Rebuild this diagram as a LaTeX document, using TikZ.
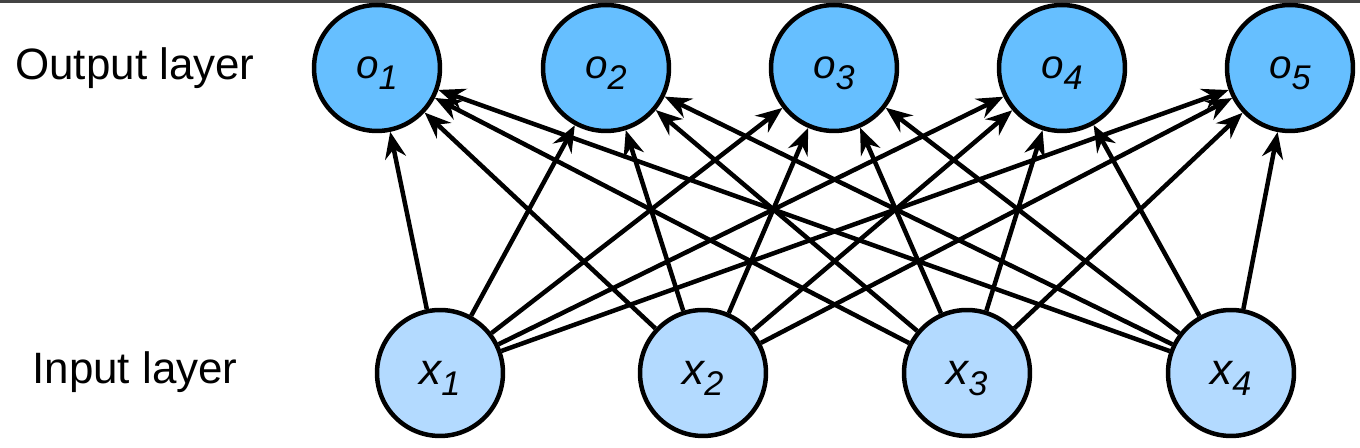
\documentclass[tikz,border=0pt]{standalone}
\usepackage{fontspec}
\setmainfont{Liberation Sans}
\definecolor{outblue}{RGB}{102, 191, 255}
\definecolor{inblue}{RGB}{179, 218, 255}
\definecolor{framegray}{RGB}{68, 68, 68}
\usepackage{tikz}
\usetikzlibrary{arrows.meta, positioning}

\newcommand{\outlabel}[1]{{\fontsize{23}{27}\selectfont\itshape o\raisebox{-6.3pt}[0pt][0pt]{\fontsize{19.5}{22}\selectfont #1}}}
\newcommand{\inlabel}[1]{{\fontsize{25}{30}\selectfont\itshape x\raisebox{-6.3pt}[0pt][0pt]{\fontsize{19.5}{22}\selectfont #1}}}

\begin{document}
\begin{tikzpicture}[x=0.02cm, y=0.02cm,
    neuron/.style={circle, draw=black, line width=0.09cm, minimum size=2.52cm, inner sep=0pt},
    outneuron/.style={neuron, fill=outblue},
    inneuron/.style={neuron, fill=inblue},
    layername/.style={font=\fontsize{25}{30}\selectfont, anchor=center},
    conn/.style={-{Stealth[length=15pt, width=12pt, inset=5pt]}, line width=0.09cm}]
  \useasboundingbox (0,0) rectangle (1360,448);
  \fill[framegray] (0,445) rectangle (1360,448);

  % layer names
  \node[layername] (outname) at (135,380) {Output layer};
  \node[layername] (inname) at (135,76) {Input layer};

  % output layer
  \node[outneuron] (o1) at (377,380) {\outlabel{1}};
  \node[outneuron] (o2) at (606,380) {\outlabel{2}};
  \node[outneuron] (o3) at (834,380) {\outlabel{3}};
  \node[outneuron] (o4) at (1062,380) {\outlabel{4}};
  \node[outneuron] (o5) at (1290,380) {\outlabel{5}};

  % input layer
  \node[inneuron] (x1) at (440,75) {\inlabel{1}};
  \node[inneuron] (x2) at (703,75) {\inlabel{2}};
  \node[inneuron] (x3) at (967,75) {\inlabel{3}};
  \node[inneuron] (x4) at (1231,75) {\inlabel{4}};

  % fully connected
  \foreach \i in {1,...,4}
    \foreach \j in {1,...,5}
      \draw[conn] (x\i) -- (o\j);
\end{tikzpicture}
\end{document}
